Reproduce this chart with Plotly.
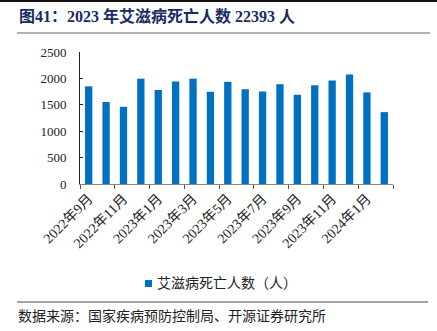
import plotly.graph_objects as go

months = ["2022年9月", "2022年10月", "2022年11月", "2022年12月",
          "2023年1月", "2023年2月", "2023年3月", "2023年4月", "2023年5月", "2023年6月",
          "2023年7月", "2023年8月", "2023年9月", "2023年10月", "2023年11月", "2023年12月",
          "2024年1月", "2024年2月"]
deaths = [1850, 1553, 1462, 1995, 1780, 1940, 1995, 1745, 1935, 1795,
          1750, 1890, 1690, 1870, 1960, 2075, 1735, 1361]
series_name = "艾滋病死亡人数（人）"
title_text = "图41：2023 年艾滋病死亡人数 22393 人"
source_text = "数据来源：国家疾病预防控制局、开源证券研究所"

W, H = 437, 331
L, R, T, B = 80, 393, 52, 184

def px(x):
    return (x - L) / (R - L)

def py(y):
    return (B - y) / (B - T)

FONT = "Liberation Serif, Noto Sans CJK SC, serif"
BAR = "#0070C0"

fig = go.Figure()
fig.add_trace(go.Bar(x=months, y=deaths, name=series_name,
                     marker=dict(color=BAR, line=dict(width=0)),
                     width=0.42, showlegend=False))

fig.update_layout(
    width=W, height=H,
    margin=dict(l=L, r=W - R, t=T, b=H - B, pad=0),
    paper_bgcolor="white", plot_bgcolor="white",
    font=dict(family=FONT, size=12, color="#222222"),
    showlegend=False,
)
fig.update_xaxes(type="category", tickmode="linear", tick0=0, dtick=2,
                 tickson="boundaries", ticks="outside", ticklen=4, tickcolor="#555555",
                 tickangle=-45, showline=True, linecolor="#888888", linewidth=1,
                 showgrid=False, tickfont=dict(family=FONT, size=14, color="#222222"),
                 range=[-0.5, len(months) - 0.5])
fig.update_yaxes(range=[0, 2500], dtick=500, showgrid=False, showline=True,
                 linecolor="#222222", linewidth=1, ticks="inside", ticklen=3,
                 tickcolor="#222222", zeroline=False,
                 tickfont=dict(family=FONT, size=13, color="#222222"), ticklabelstandoff=10)

fig.add_annotation(text="<b>" + title_text + "</b>", xref="paper", yref="paper",
                   x=px(17), y=py(16), xanchor="left", yanchor="middle", showarrow=False,
                   font=dict(family=FONT, size=16, color="#1b2a63"))
fig.add_annotation(text=source_text, xref="paper", yref="paper",
                   x=px(16), y=py(316), xanchor="left", yanchor="middle", showarrow=False,
                   font=dict(family=FONT, size=14, color="#222222"))

# legend (manual)
fig.add_shape(type="rect", xref="paper", yref="paper", x0=px(145), x1=px(152),
              y0=py(280), y1=py(287), fillcolor=BAR, line=dict(width=0))
fig.add_annotation(text=series_name, xref="paper", yref="paper",
                   x=px(155), y=py(283), xanchor="left", yanchor="middle", showarrow=False,
                   font=dict(family=FONT, size=14, color="#222222"))

fig.add_shape(type="line", xref="paper", yref="paper", x0=px(0), x1=px(437),
              y0=py(1), y1=py(1), line=dict(color="#111111", width=2))
fig.add_shape(type="line", xref="paper", yref="paper", x0=px(17), x1=px(430),
              y0=py(33), y1=py(33), line=dict(color="#666666", width=1))
fig.add_shape(type="line", xref="paper", yref="paper", x0=px(17), x1=px(428),
              y0=py(302), y1=py(302), line=dict(color="#444444", width=1))

fig.write_html("out.html")
